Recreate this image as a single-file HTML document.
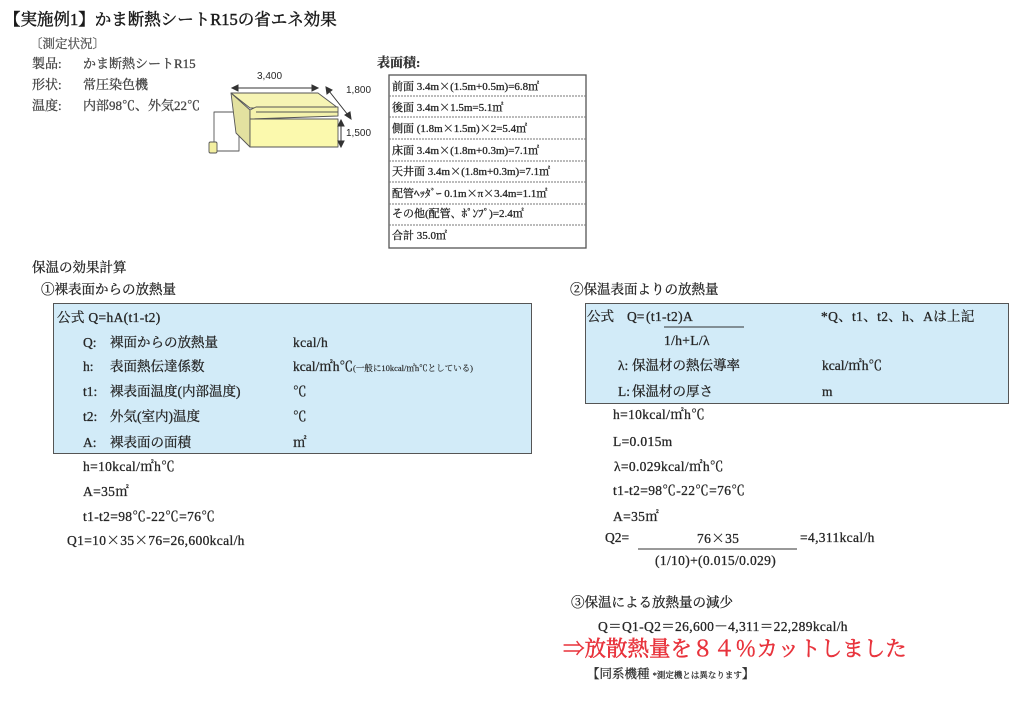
<!DOCTYPE html>
<html><head><meta charset="utf-8">
<style>
html,body{margin:0;padding:0;background:#fff;}
body{width:1024px;height:709px;position:relative;overflow:hidden;font-family:"Liberation Serif","Noto Serif CJK SC",serif;color:#262626;}
.t{position:absolute;white-space:nowrap;line-height:1;-webkit-text-stroke:0.3px currentColor;}
.s13{font-size:13.5px;}
.box{position:absolute;background:#d2ebf8;border:1.5px solid #555;box-sizing:border-box;}
.sm{font-size:8.5px;-webkit-text-stroke:0.15px currentColor;}
.jp{font-family:"Noto Serif CJK SC",serif;}
.w{letter-spacing:0.35px;}
</style></head><body>

<div class="box" style="left:53px;top:303px;width:479px;height:151px;"></div>
<div class="box" style="left:585px;top:303px;width:424px;height:101px;"></div>

<svg width="1024" height="709" style="position:absolute;left:0;top:0" xmlns="http://www.w3.org/2000/svg">
  <g stroke="#555" stroke-width="0.9" stroke-linejoin="round">
    <path d="M236,112 H214 V143" fill="none"/>
    <path d="M216,151 H239 V134" fill="none"/>
    <rect x="209" y="142" width="8" height="11" rx="1.5" fill="#f3efa0"/>
    <polygon points="231,93 318,93 338,108 250,108" fill="#f6f4b4"/>
    <polygon points="231,93 250,110 250,147 236,133" fill="#e3e1a0"/>
    <polygon points="250,110 256,107 338,107 338,116 250,119" fill="#f4f2ac"/>
    <line x1="256" y1="112" x2="338" y2="112"/>
    <rect x="250" y="119" width="88" height="28" fill="#fbf9ad"/>
  </g>
  <g stroke="#333" stroke-width="1" fill="#333">
    <line x1="236" y1="88" x2="314" y2="88"/>
    <polygon points="232,88 238,85 238,91"/>
    <polygon points="318,88 312,85 312,91"/>
    <line x1="329" y1="91" x2="348" y2="115"/>
    <polygon points="326,87 327,94 332,90"/>
    <polygon points="351,119 345,115 350,112"/>
    <line x1="341" y1="124" x2="341" y2="143"/>
    <polygon points="341,120 338,126 344,126"/>
    <polygon points="341,147 338,141 344,141"/>
  </g>
  <rect x="389" y="75" width="197" height="173" fill="none" stroke="#555" stroke-width="1.3"/>
  <g stroke="#777" stroke-width="1" stroke-dasharray="2,1">
    <line x1="389" y1="96" x2="586" y2="96"/>
    <line x1="389" y1="117" x2="586" y2="117"/>
    <line x1="389" y1="139" x2="586" y2="139"/>
    <line x1="389" y1="161" x2="586" y2="161"/>
    <line x1="389" y1="182" x2="586" y2="182"/>
    <line x1="389" y1="204" x2="586" y2="204"/>
    <line x1="389" y1="225" x2="586" y2="225"/>
  </g>
  <line x1="664" y1="327" x2="744" y2="327" stroke="#333" stroke-width="1"/>
  <line x1="638" y1="549" x2="797" y2="549" stroke="#333" stroke-width="1"/>
</svg>

<div class="t" style="left:4px;top:12px;font-size:16.5px;color:#1a1a1a;-webkit-text-stroke:0.45px #1a1a1a;">【実施例1】かま断熱シートR15の省エネ効果</div>
<div class="t" style="left:30px;top:38px;font-size:12.5px;color:#555;">〔測定状況〕</div>
<div class="t" style="left:32px;top:57px;font-size:13px;color:#444;">製品:</div>
<div class="t" style="left:83px;top:57px;font-size:13px;color:#444;">かま断熱シートR15</div>
<div class="t" style="left:32px;top:78px;font-size:13px;color:#444;">形状:</div>
<div class="t" style="left:83px;top:78px;font-size:13px;color:#444;">常圧染色機</div>
<div class="t" style="left:32px;top:99px;font-size:13px;color:#444;">温度:</div>
<div class="t" style="left:83px;top:99px;font-size:13px;color:#444;">内部98℃、外気22℃</div>

<div class="t" style="left:257px;top:72px;font-size:10px;font-family:'Liberation Sans',sans-serif;-webkit-text-stroke:0;">3,400</div>
<div class="t" style="left:346px;top:86px;font-size:10px;font-family:'Liberation Sans',sans-serif;-webkit-text-stroke:0;">1,800</div>
<div class="t" style="left:346px;top:129px;font-size:10px;font-family:'Liberation Sans',sans-serif;-webkit-text-stroke:0;">1,500</div>

<div class="t" style="left:377px;top:56px;font-size:13px;font-weight:bold;color:#333;">表面積:</div>
<div class="t" style="left:392px;top:81px;font-size:11px;">前面 3.4m<span class="jp">×</span>(1.5m+0.5m)=6.8㎡</div>
<div class="t" style="left:392px;top:102px;font-size:11px;">後面 3.4m<span class="jp">×</span>1.5m=5.1㎡</div>
<div class="t" style="left:392px;top:123px;font-size:11px;">側面 (1.8m<span class="jp">×</span>1.5m)<span class="jp">×</span>2=5.4㎡</div>
<div class="t" style="left:392px;top:145px;font-size:11px;">床面 3.4m<span class="jp">×</span>(1.8m+0.3m)=7.1㎡</div>
<div class="t" style="left:392px;top:166px;font-size:11px;">天井面 3.4m<span class="jp">×</span>(1.8m+0.3m)=7.1㎡</div>
<div class="t" style="left:392px;top:188px;font-size:11px;">配管ﾍｯﾀﾞｰ 0.1m<span class="jp">×</span>π<span class="jp">×</span>3.4m=1.1㎡</div>
<div class="t" style="left:392px;top:209px;font-size:11px;">その他(配管、ﾎﾟﾝﾌﾟ)=2.4㎡</div>
<div class="t" style="left:392px;top:231px;font-size:11px;">合計 35.0㎡</div>

<div class="t s13" style="left:32px;top:261px;">保温の効果計算</div>
<div class="t s13" style="left:41px;top:283px;">①裸表面からの放熱量</div>

<div class="t s13 w" style="left:57px;top:311px;">公式 Q=hA(t1-t2)</div>
<div class="t s13" style="left:83px;top:336px;">Q:</div>
<div class="t s13" style="left:110px;top:336px;">裸面からの放熱量</div>
<div class="t s13 w" style="left:293px;top:336px;">kcal/h</div>
<div class="t s13" style="left:83px;top:360px;">h:</div>
<div class="t s13" style="left:110px;top:360px;">表面熱伝達係数</div>
<div class="t s13" style="left:293px;top:360px;">kcal/㎡h℃<span class="sm">(一般に10kcal/㎡h℃としている)</span></div>
<div class="t s13" style="left:83px;top:385px;">t1:</div>
<div class="t s13" style="left:110px;top:385px;">裸表面温度(内部温度)</div>
<div class="t s13" style="left:293px;top:385px;">℃</div>
<div class="t s13" style="left:83px;top:410px;">t2:</div>
<div class="t s13" style="left:110px;top:410px;">外気(室内)温度</div>
<div class="t s13" style="left:293px;top:410px;">℃</div>
<div class="t s13" style="left:83px;top:436px;">A:</div>
<div class="t s13" style="left:110px;top:436px;">裸表面の面積</div>
<div class="t s13" style="left:293px;top:436px;">㎡</div>

<div class="t s13 w" style="left:83px;top:460px;">h=10kcal/㎡h℃</div>
<div class="t s13 w" style="left:83px;top:485px;">A=35㎡</div>
<div class="t s13 w" style="left:83px;top:510px;">t1-t2=98℃-22℃=76℃</div>
<div class="t s13 w" style="left:67px;top:533px;">Q1=10<span class="jp">×</span>35<span class="jp">×</span>76=26,600kcal/h</div>

<div class="t s13" style="left:570px;top:283px;">②保温表面よりの放熱量</div>
<div class="t s13" style="left:587px;top:310px;">公式</div>
<div class="t s13" style="left:627px;top:310px;">Q=</div>
<div class="t s13 w" style="left:646px;top:310px;">(t1-t2)A</div>
<div class="t s13 w" style="left:664px;top:334px;">1/h+L/λ</div>
<div class="t s13 w" style="left:821px;top:310px;">*Q、t1、t2、h、Aは上記</div>
<div class="t s13" style="left:618px;top:359px;">λ:</div>
<div class="t s13" style="left:632px;top:359px;">保温材の熱伝導率</div>
<div class="t s13" style="left:822px;top:359px;">kcal/㎡h℃</div>
<div class="t s13" style="left:618px;top:385px;">L:</div>
<div class="t s13" style="left:632px;top:385px;">保温材の厚さ</div>
<div class="t s13" style="left:822px;top:385px;">m</div>

<div class="t s13 w" style="left:613px;top:408px;">h=10kcal/㎡h℃</div>
<div class="t s13 w" style="left:613px;top:435px;">L=0.015m</div>
<div class="t s13 w" style="left:614px;top:460px;">λ=0.029kcal/㎡h℃</div>
<div class="t s13 w" style="left:613px;top:484px;">t1-t2=98℃-22℃=76℃</div>
<div class="t s13 w" style="left:613px;top:510px;">A=35㎡</div>
<div class="t s13" style="left:605px;top:531px;">Q2=</div>
<div class="t s13 w" style="left:697px;top:531px;">76<span class="jp">×</span>35</div>
<div class="t s13 w" style="left:800px;top:531px;">=4,311kcal/h</div>
<div class="t s13 w" style="left:655px;top:554px;">(1/10)+(0.015/0.029)</div>

<div class="t s13" style="left:571px;top:596px;">③保温による放熱量の減少</div>
<div class="t s13 w" style="left:598px;top:620px;">Q＝Q1-Q2＝26,600－4,311＝22,289kcal/h</div>
<div class="t" style="left:563px;top:639px;font-size:21.5px;color:#e8333c;-webkit-text-stroke:0.5px #e8333c;">⇒放散熱量を８４％カットしました</div>
<div class="t" style="left:587px;top:668px;font-size:12.5px;color:#333;">【同系機種 <span style="font-size:8.5px;">*測定機とは異なります</span>】</div>

</body></html>
